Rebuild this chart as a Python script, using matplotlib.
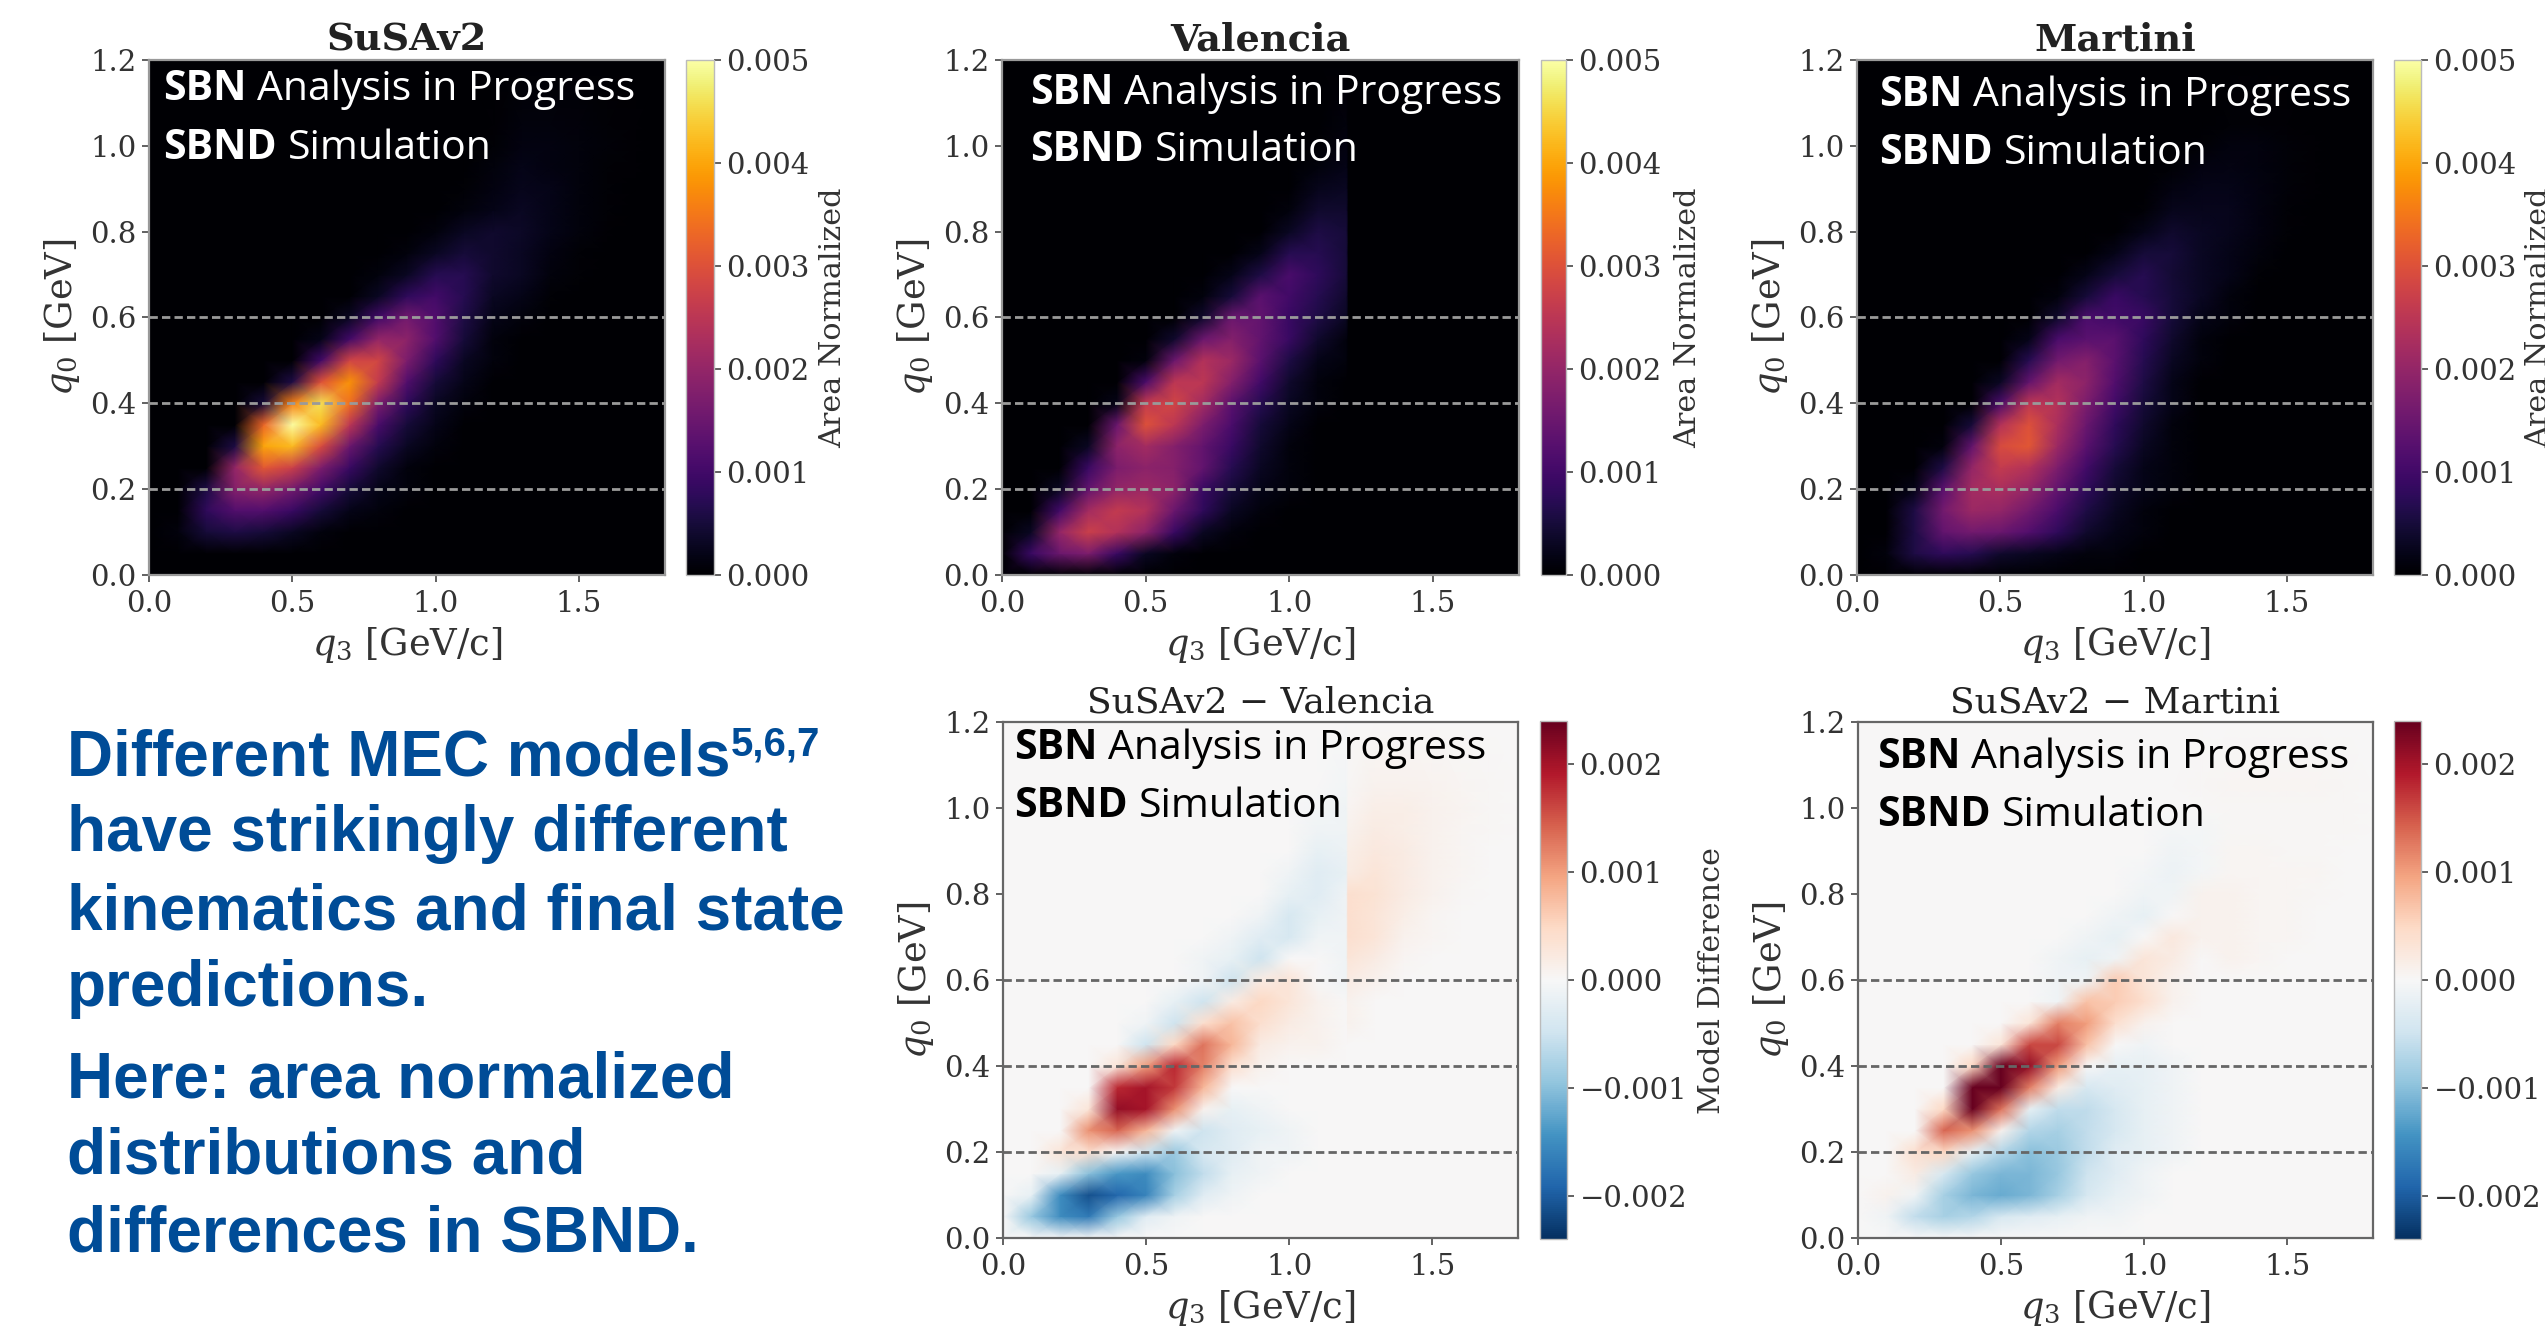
import numpy as np
import matplotlib
matplotlib.use('Agg')
import matplotlib.pyplot as plt

W, H = 2545, 1330

# grid nodes, values below are in units of 1e-4
q3_nodes = [0.0, 0.1, 0.2, 0.3, 0.4, 0.5, 0.6, 0.7, 0.8, 0.9, 1.0, 1.1, 1.2, 1.3, 1.4, 1.5, 1.6, 1.7, 1.8]
q0_nodes = [0.0, 0.05, 0.1, 0.15, 0.2, 0.25, 0.3, 0.35, 0.4, 0.45, 0.5, 0.55, 0.6, 0.65, 0.7, 0.75, 0.8, 0.85, 0.9, 0.95, 1.0, 1.05, 1.2]
valencia_cut = 1.2

susav2 = [
    [0, 0, 0, 0, 0, 0, 0, 0, 0, 0, 0, 0, 0, 0, 0, 0, 0, 0, 0],
    [0, 0, 0, 0, 0, 0, 0, 0, 0, 0, 0, 0, 0, 0, 0, 0, 0, 0, 0],
    [0, 1, 5, 6, 5, 3, 1, 0, 0, 0, 0, 0, 0, 0, 0, 0, 0, 0, 0],
    [0, 0, 8, 12, 12, 9, 5, 2, 1, 0, 0, 0, 0, 0, 0, 0, 0, 0, 0],
    [0, 0, 6, 18, 20, 16, 10, 5, 2, 1, 0, 0, 0, 0, 0, 0, 0, 0, 0],
    [0, 0, 0, 20, 31, 27, 17, 9, 4, 1, 0, 0, 0, 0, 0, 0, 0, 0, 0],
    [0, 0, 0, 6, 40, 42, 29, 15, 7, 3, 1, 0, 0, 0, 0, 0, 0, 0, 0],
    [0, 0, 0, 0, 33, 50, 42, 25, 11, 5, 2, 0, 0, 0, 0, 0, 0, 0, 0],
    [0, 0, 0, 0, 5, 36, 46, 34, 17, 8, 3, 1, 0, 0, 0, 0, 0, 0, 0],
    [0, 0, 0, 0, 0, 6, 30, 38, 26, 12, 5, 2, 0, 0, 0, 0, 0, 0, 0],
    [0, 0, 0, 0, 0, 0, 10, 28, 28, 17, 8, 3, 1, 0, 0, 0, 0, 0, 0],
    [0, 0, 0, 0, 0, 0, 2, 10, 20, 19, 12, 5, 1, 0, 0, 0, 0, 0, 0],
    [0, 0, 0, 0, 0, 0, 0, 3, 10, 16, 12, 6, 2, 1, 0, 0, 0, 0, 0],
    [0, 0, 0, 0, 0, 0, 0, 0, 3, 8, 10, 7, 3, 2, 0.5, 0, 0, 0, 0],
    [0, 0, 0, 0, 0, 0, 0, 0, 1, 3, 7, 7, 4, 3, 1, 0.5, 0, 0, 0],
    [0, 0, 0, 0, 0, 0, 0, 0, 0, 1, 3, 5, 4, 3, 1.5, 0.5, 0, 0, 0],
    [0, 0, 0, 0, 0, 0, 0, 0, 0, 0, 1, 3, 4, 3.5, 2, 1, 0.3, 0, 0],
    [0, 0, 0, 0, 0, 0, 0, 0, 0, 0, 0, 1, 2, 3, 2, 1, 0.5, 0, 0],
    [0, 0, 0, 0, 0, 0, 0, 0, 0, 0, 0, 0.5, 1.5, 2.5, 2, 1, 0.5, 0, 0],
    [0, 0, 0, 0, 0, 0, 0, 0, 0, 0, 0, 0, 1, 2, 1.5, 1, 0.5, 0.2, 0],
    [0, 0, 0, 0, 0, 0, 0, 0, 0, 0, 0, 0, 0.5, 1.5, 1.5, 1, 0.6, 0.2, 0],
    [0, 0, 0, 0, 0, 0, 0, 0, 0, 0, 0, 0, 0.3, 1, 1, 0.8, 0.5, 0.2, 0],
    [0, 0, 0, 0, 0, 0, 0, 0, 0, 0, 0, 0, 0, 0, 0, 0, 0, 0, 0],
]

valencia = [
    [0, 0, 0, 0, 0, 0, 0, 0, 0, 0, 0, 0, 0, 0, 0, 0, 0, 0, 0],
    [0, 9, 15, 17, 9, 3, 1, 0, 0, 0, 0, 0, 0, 0, 0, 0, 0, 0, 0],
    [0, 3, 20, 27, 24, 19, 9, 3, 1, 0, 0, 0, 0, 0, 0, 0, 0, 0, 0],
    [0, 0, 10, 22, 26, 24, 15, 8, 3, 1, 0, 0, 0, 0, 0, 0, 0, 0, 0],
    [0, 0, 3, 14, 20, 21, 19, 9, 5, 2, 1, 0, 0, 0, 0, 0, 0, 0, 0],
    [0, 0, 0, 9, 17, 19, 18, 14, 7, 3, 1, 0, 0, 0, 0, 0, 0, 0, 0],
    [0, 0, 0, 3, 19, 22, 18, 14, 9, 4, 1, 0, 0, 0, 0, 0, 0, 0, 0],
    [0, 0, 0, 0, 15, 30, 25, 17, 11, 5, 2, 0, 0, 0, 0, 0, 0, 0, 0],
    [0, 0, 0, 0, 2, 26, 28, 22, 13, 7, 3, 1, 0, 0, 0, 0, 0, 0, 0],
    [0, 0, 0, 0, 0, 11, 25, 25, 18, 10, 4, 1, 0, 0, 0, 0, 0, 0, 0],
    [0, 0, 0, 0, 0, 1, 15, 24, 21, 13, 6, 2, 1, 0, 0, 0, 0, 0, 0],
    [0, 0, 0, 0, 0, 0, 4, 15, 18, 14, 9, 4, 1, 0, 0, 0, 0, 0, 0],
    [0, 0, 0, 0, 0, 0, 0, 4, 15, 14, 9, 6, 3, 0, 0, 0, 0, 0, 0],
    [0, 0, 0, 0, 0, 0, 0, 1, 5, 13, 10, 7, 4, 0, 0, 0, 0, 0, 0],
    [0, 0, 0, 0, 0, 0, 0, 0, 2, 6, 11, 8, 5, 0, 0, 0, 0, 0, 0],
    [0, 0, 0, 0, 0, 0, 0, 0, 0, 2, 7, 7, 5, 0, 0, 0, 0, 0, 0],
    [0, 0, 0, 0, 0, 0, 0, 0, 0, 0, 3, 6, 5, 0, 0, 0, 0, 0, 0],
    [0, 0, 0, 0, 0, 0, 0, 0, 0, 0, 1, 4, 4, 0, 0, 0, 0, 0, 0],
    [0, 0, 0, 0, 0, 0, 0, 0, 0, 0, 0, 2.5, 3, 0, 0, 0, 0, 0, 0],
    [0, 0, 0, 0, 0, 0, 0, 0, 0, 0, 0, 1, 2, 0, 0, 0, 0, 0, 0],
    [0, 0, 0, 0, 0, 0, 0, 0, 0, 0, 0, 0.5, 1.5, 0, 0, 0, 0, 0, 0],
    [0, 0, 0, 0, 0, 0, 0, 0, 0, 0, 0, 0, 1, 0, 0, 0, 0, 0, 0],
    [0, 0, 0, 0, 0, 0, 0, 0, 0, 0, 0, 0, 0, 0, 0, 0, 0, 0, 0],
]

martini = [
    [0, 0, 0, 0, 0, 0, 0, 0, 0, 0, 0, 0, 0, 0, 0, 0, 0, 0, 0],
    [0, 1, 6, 8, 7, 4, 3, 2, 1, 1, 0, 0, 0, 0, 0, 0, 0, 0, 0],
    [0, 0, 6, 14, 16, 15, 12, 8, 4, 2, 1, 0, 0, 0, 0, 0, 0, 0, 0],
    [0, 0, 6, 16, 21, 20, 16, 11, 6, 3, 1, 0, 0, 0, 0, 0, 0, 0, 0],
    [0, 0, 2, 13, 22, 23, 20, 14, 8, 4, 2, 1, 0, 0, 0, 0, 0, 0, 0],
    [0, 0, 0, 6, 20, 26, 24, 17, 10, 5, 2, 1, 0, 0, 0, 0, 0, 0, 0],
    [0, 0, 0, 1, 14, 29, 31, 21, 13, 7, 3, 1, 0, 0, 0, 0, 0, 0, 0],
    [0, 0, 0, 0, 5, 24, 30, 23, 15, 8, 4, 1, 0, 0, 0, 0, 0, 0, 0],
    [0, 0, 0, 0, 0, 11, 25, 24, 17, 10, 5, 2, 0, 0, 0, 0, 0, 0, 0],
    [0, 0, 0, 0, 0, 3, 14, 22, 19, 12, 6, 2, 0, 0, 0, 0, 0, 0, 0],
    [0, 0, 0, 0, 0, 0, 7, 16, 18, 13, 7, 3, 1, 0, 0, 0, 0, 0, 0],
    [0, 0, 0, 0, 0, 0, 2, 11, 13, 13, 8, 4, 1, 0, 0, 0, 0, 0, 0],
    [0, 0, 0, 0, 0, 0, 0, 4, 11, 10, 9, 5, 2, 1, 0, 0, 0, 0, 0],
    [0, 0, 0, 0, 0, 0, 0, 1, 5, 9, 7, 5, 3, 1, 0, 0, 0, 0, 0],
    [0, 0, 0, 0, 0, 0, 0, 0, 2, 5, 7, 4.5, 3, 2, 0.5, 0, 0, 0, 0],
    [0, 0, 0, 0, 0, 0, 0, 0, 0, 2, 5, 5, 3, 2, 1, 0, 0, 0, 0],
    [0, 0, 0, 0, 0, 0, 0, 0, 0, 0, 2, 4, 3, 2.5, 1.5, 0.5, 0, 0, 0],
    [0, 0, 0, 0, 0, 0, 0, 0, 0, 0, 0.5, 2.5, 2.5, 2.5, 1.5, 0.5, 0, 0, 0],
    [0, 0, 0, 0, 0, 0, 0, 0, 0, 0, 0, 1.5, 2, 2, 1.5, 0.7, 0.3, 0, 0],
    [0, 0, 0, 0, 0, 0, 0, 0, 0, 0, 0, 0.5, 1.5, 1.7, 1.2, 0.7, 0.3, 0, 0],
    [0, 0, 0, 0, 0, 0, 0, 0, 0, 0, 0, 0, 0.5, 1.2, 1.2, 0.7, 0.3, 0, 0],
    [0, 0, 0, 0, 0, 0, 0, 0, 0, 0, 0, 0, 0, 0.5, 0.5, 0.3, 0.1, 0, 0],
    [0, 0, 0, 0, 0, 0, 0, 0, 0, 0, 0, 0, 0, 0, 0, 0, 0, 0, 0],
]

x_ticks = [0.0, 0.5, 1.0, 1.5]
y_ticks = [0.0, 0.2, 0.4, 0.6, 0.8, 1.0, 1.2]
dash_levels = [0.2, 0.4, 0.6]
area_ticks = [0.0, 0.001, 0.002, 0.003, 0.004, 0.005]
diff_ticks = [-0.002, -0.001, 0.0, 0.001, 0.002]

left_lines = ['Different MEC models', 'have strikingly different', 'kinematics and final state',
              'predictions.', 'Here: area normalized', 'distributions and', 'differences in SBND.']
left_baselines = [775, 851, 929, 1006, 1097, 1174, 1251]

plt.rcParams['font.family'] = 'DejaVu Serif'
plt.rcParams['mathtext.fontset'] = 'dejavuserif'

fig = plt.figure(figsize=(W / 100, H / 100), dpi=100, facecolor='white')


def px_axes(x0, y0, x1, y1):
    return fig.add_axes([x0 / W, 1 - y1 / H, (x1 - x0) / W, (y1 - y0) / H])


# sharp edge of the Valencia model at q3 = 1.2: a second column just past it
cut = q3_nodes.index(valencia_cut) + 1
q3_grid = np.insert(np.array(q3_nodes), cut, valencia_cut + 0.006)
susa = np.insert(np.array(susav2, dtype=float), cut, np.array(susav2)[:, cut - 1], axis=1) * 1e-4
mart = np.insert(np.array(martini, dtype=float), cut, np.array(martini)[:, cut - 1], axis=1) * 1e-4
vale = np.insert(np.array(valencia, dtype=float), cut, 0, axis=1) * 1e-4
X, Y = np.meshgrid(q3_grid, np.array(q0_nodes))


def panel(box, cbox, Z, title, bold, cmap, vmin, vmax, cticks, dash_col, spine_col, clabel, clabel_x):
    ax = px_axes(*box)
    m = ax.pcolormesh(X, Y, Z, shading='gouraud', cmap=cmap, vmin=vmin, vmax=vmax)
    for lev in dash_levels:
        ax.axhline(lev, color=dash_col, lw=2.0, ls=(0, (3.0, 1.5)))
    ax.set_xlim(0, 1.8)
    ax.set_ylim(0, 1.2)
    ax.set_xticks(x_ticks)
    ax.set_yticks(y_ticks)
    ax.set_xticklabels(['%.1f' % t for t in x_ticks])
    ax.set_yticklabels(['%.1f' % t for t in y_ticks])
    ax.tick_params(labelsize=21, length=5, width=1.3, color='#555555', labelcolor='#333333', pad=4)
    ax.tick_params(axis='x', pad=6)
    for s in ax.spines.values():
        s.set_color(spine_col)
        s.set_linewidth(1.6)
    ax.set_xlabel('$q_3$ [GeV/c]', fontsize=26.5, color='#333333', labelpad=5)
    ax.set_ylabel('$q_0$ [GeV]', fontsize=26.5, color='#333333', labelpad=6)
    ax.set_title(title, fontsize=27.5 if bold else 26, color='#222222',
                 fontweight='bold' if bold else 'normal', pad=7)

    cax = px_axes(*cbox)
    cb = fig.colorbar(m, cax=cax)
    cb.set_ticks(cticks)
    cb.ax.set_yticklabels([('%.3f' % t).replace('-', '\u2212') for t in cticks])
    cb.ax.tick_params(labelsize=21, length=5, width=1.3, color='#555555', labelcolor='#333333', pad=4)
    cb.outline.set_edgecolor('#bbbbbb')
    cb.outline.set_linewidth(1.0)
    if clabel:
        fig.text(clabel_x / W, 1 - (box[1] + box[3]) / 2 / H, clabel, rotation=90, fontsize=21.8,
                 color='#333333', ha='center', va='center')
    return ax


def stamp(x, y1, y2, col):
    rend = fig.canvas.get_renderer()
    for y, bold_part, rest in [(y1, 'SBN', 'Analysis in Progress'), (y2, 'SBND', 'Simulation')]:
        t = fig.text(x / W, 1 - y / H, bold_part, fontsize=29.5, family='Open Sans', fontweight='bold',
                     color=col, va='baseline', zorder=10)
        x_end = t.get_window_extent(rend).x1
        fig.text((x_end + 11) / W, 1 - y / H, rest, fontsize=29.5, family='Open Sans', color=col,
                 va='baseline', zorder=10)


panel((149, 60, 665, 575), (686, 60, 714, 575), susa, 'SuSAv2', True, 'inferno', 0, 0.005,
      area_ticks, '#9a9a9a', '#999999', 'Area Normalized', 833)
panel((1002, 60, 1519, 575), (1541, 60, 1566, 575), vale, 'Valencia', True, 'inferno', 0, 0.005,
      area_ticks, '#9a9a9a', '#999999', 'Area Normalized', 1688)
panel((1857, 60, 2373, 575), (2394, 60, 2421, 575), mart, 'Martini', True, 'inferno', 0, 0.005,
      area_ticks, '#9a9a9a', '#999999', 'Area Normalized', 2539)
panel((1003, 722, 1518, 1238), (1540, 721, 1567, 1239), susa - vale, 'SuSAv2 \u2212 Valencia', False, 'RdBu_r',
      -0.0024, 0.0024, diff_ticks, '#666666', '#666666', 'Model Difference', 1712)
panel((1858, 722, 2373, 1238), (2394, 721, 2421, 1239), susa - mart, 'SuSAv2 \u2212 Martini', False, 'RdBu_r',
      -0.0024, 0.0024, diff_ticks, '#666666', '#666666', None, 0)

fig.canvas.draw()
stamp(163, 100, 159, 'white')
stamp(1030, 104, 161, 'white')
stamp(1879, 106, 164, 'white')
stamp(1014, 759, 817, 'black')
stamp(1877, 768, 826, 'black')

for line, y in zip(left_lines, left_baselines):
    fig.text(67 / W, 1 - y / H, line, fontsize=46, family='Liberation Sans', fontweight='bold',
             color='#004C97', va='baseline')
fig.text(731 / W, 1 - 756 / H, '5,6,7', fontsize=29, family='Liberation Sans', fontweight='bold',
         color='#004C97', va='baseline')

fig.savefig('out.png', dpi=100)
